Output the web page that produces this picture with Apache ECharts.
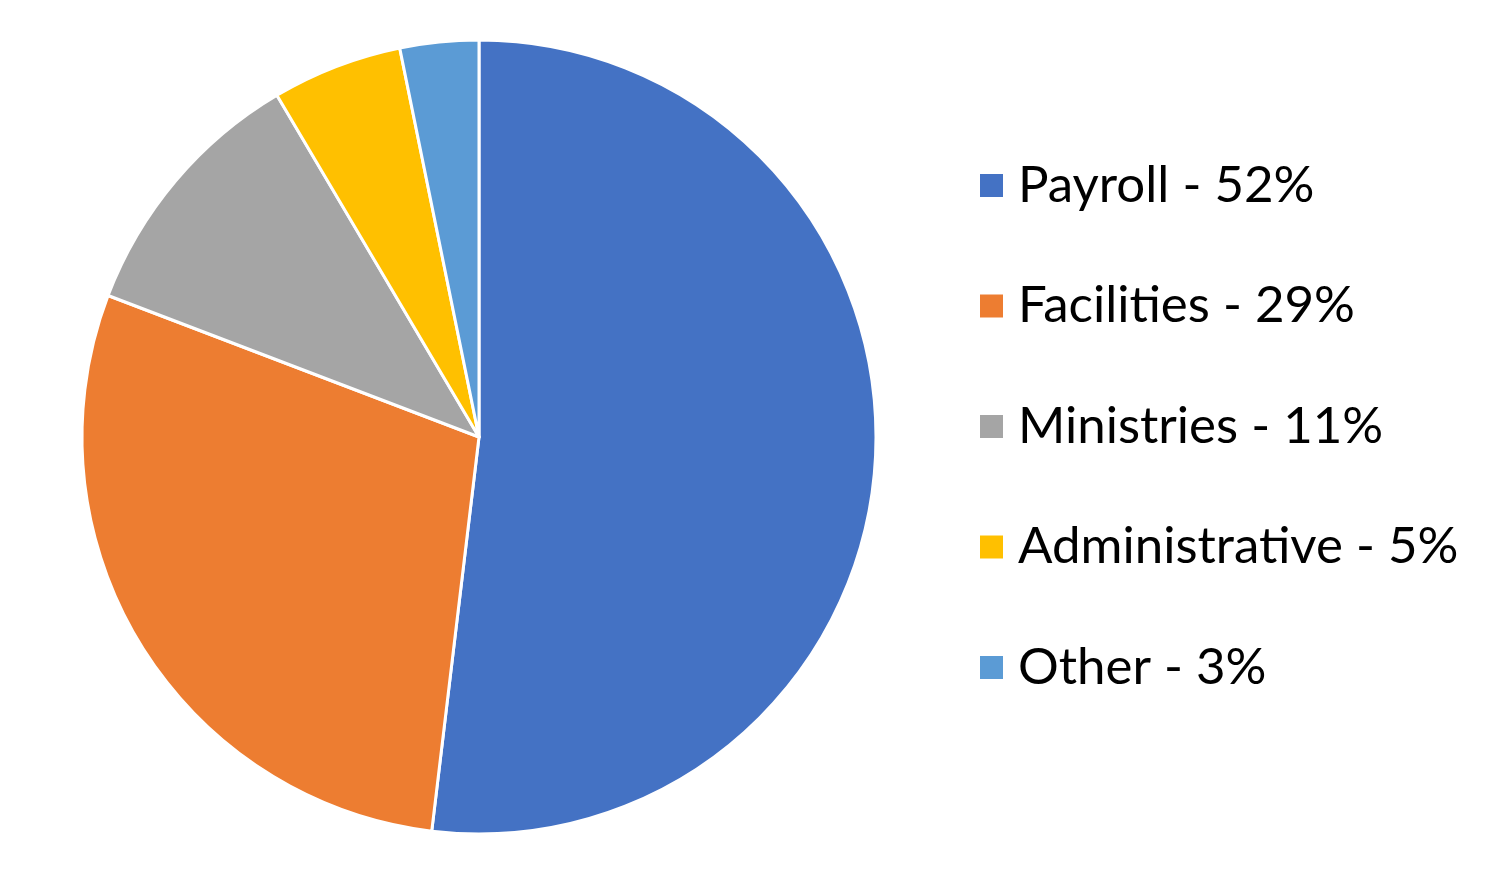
<!DOCTYPE html>
<html>
<head>
<meta charset="utf-8">
<style>
  html, body { margin: 0; padding: 0; background: #fff; }
  #chart { width: 1500px; height: 875px; }
</style>
<script src="https://cdn.jsdelivr.net/npm/echarts@6/dist/echarts.min.js"></script>
</head>
<body>
<div id="chart"></div>
<script>
// budget split (slice sizes, legend shows them rounded)
var categories = ["Payroll", "Facilities", "Ministries", "Administrative", "Other"];
var shares = [51.9, 28.9, 10.7, 5.3, 3.2];
var colors = ["#4472C4", "#ED7D31", "#A5A5A5", "#FFC000", "#5B9BD5"];

var chart = echarts.init(document.getElementById("chart"));

var pieData = categories.map(function (name, i) {
  return { name: name, value: shares[i] };
});

var option = {
  animation: false,
  color: colors,
  legend: {
    orient: "vertical",
    left: 978,
    top: 160,
    padding: 0,
    itemWidth: 25,
    itemHeight: 25,
    itemGap: 69.5,
    icon: "rect",
    data: categories,
    formatter: function (name) {
      return name + " - " + Math.round(shares[categories.indexOf(name)]) + "%";
    },
    textStyle: {
      fontFamily: "Lato",
      fontSize: 51,
      lineHeight: 50,
      color: "#000",
      padding: [0, 0, 0, 9]
    }
  },
  series: [{
    type: "pie",
    center: [479, 437],
    radius: 397,
    startAngle: 90,
    clockwise: true,
    label: { show: false },
    labelLine: { show: false },
    itemStyle: { borderColor: "#fff", borderWidth: 3 },
    emphasis: { disabled: true },
    data: pieData
  }]
};

chart.setOption(option);
</script>
</body>
</html>
